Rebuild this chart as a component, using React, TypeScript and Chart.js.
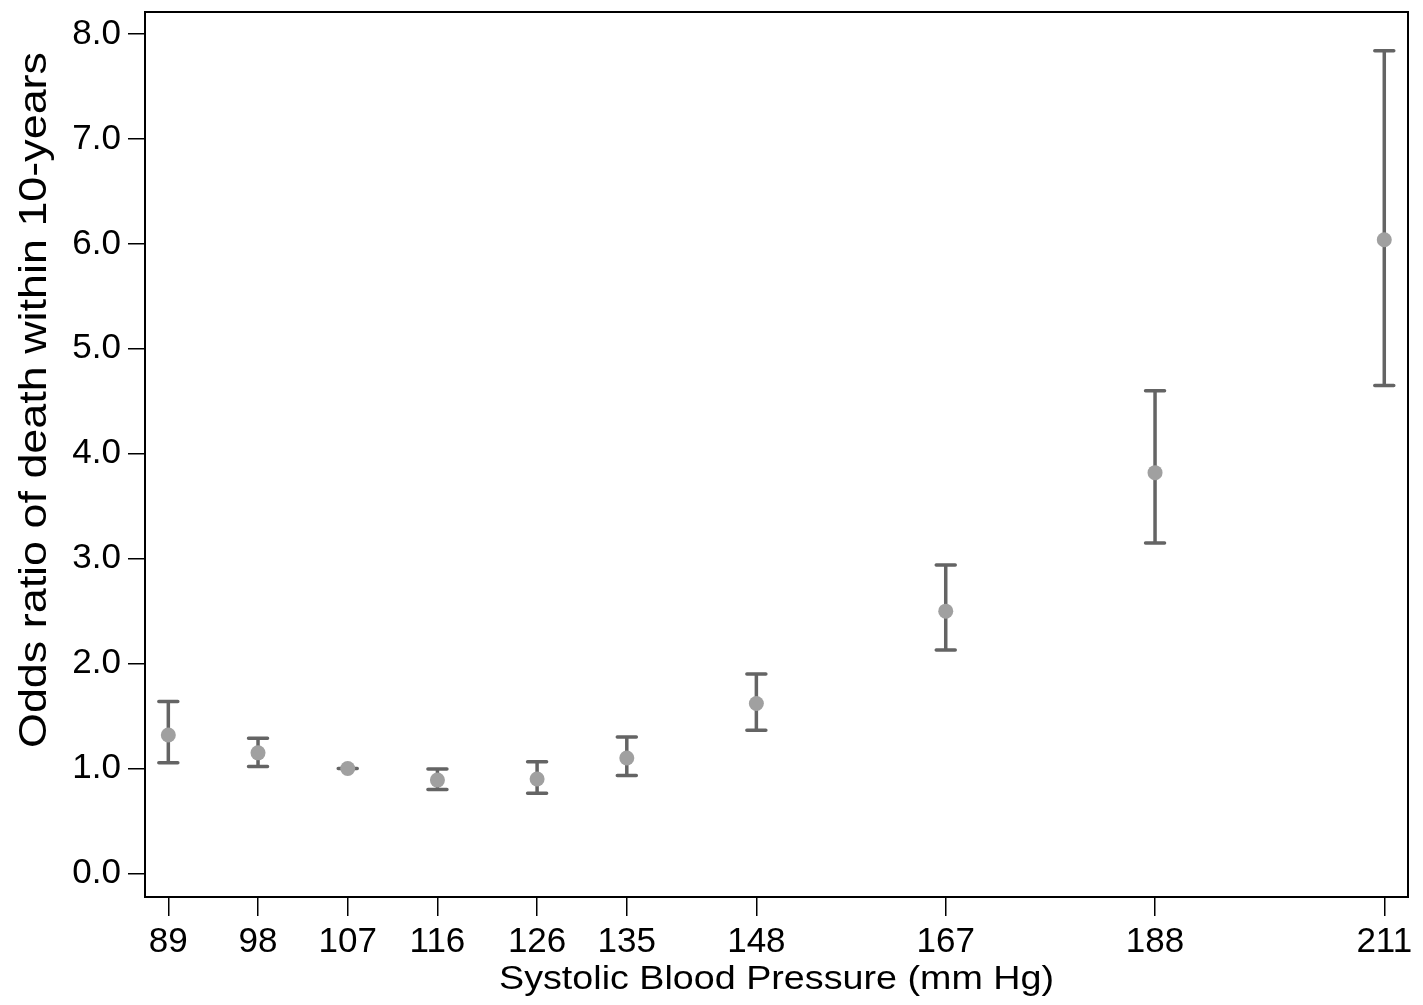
import React, { useEffect, useRef } from "react";
import { Chart, registerables } from "chart.js";

Chart.register(...registerables);

const sbpValues = [89, 98, 107, 116, 126, 135, 148, 167, 188, 211];
const oddsRatio = [1.32, 1.15, 1.0, 0.89, 0.9, 1.1, 1.62, 2.5, 3.82, 6.04];
const ciLower = [1.055, 1.02, 1.0, 0.8, 0.765, 0.935, 1.365, 2.13, 3.15, 4.65];
const ciUpper = [1.64, 1.29, 1.0, 0.995, 1.065, 1.3, 1.9, 2.94, 4.6, 7.84];
const yTickValues = [0, 1, 2, 3, 4, 5, 6, 7, 8];
const xTitle = "Systolic Blood Pressure (mm Hg)";
const yTitle = "Odds ratio of death within 10-years";

const FONT = "'Liberation Sans', Arial, Helvetica, sans-serif";

const errorBarPlugin = {
  id: "errorBars",
  beforeDatasetsDraw(chart: any) {
    const ctx = chart.ctx;
    const xs = chart.scales.x;
    const ys = chart.scales.y;
    ctx.save();
    ctx.strokeStyle = "#646464";
    ctx.lineWidth = 3.5;
    ctx.lineCap = "round";
    for (let i = 0; i < sbpValues.length; i++) {
      const x = xs.getPixelForValue(sbpValues[i]);
      const yl = ys.getPixelForValue(ciLower[i]);
      const yu = ys.getPixelForValue(ciUpper[i]);
      ctx.beginPath();
      ctx.moveTo(x, yl);
      ctx.lineTo(x, yu);
      ctx.moveTo(x - 9.5, yl);
      ctx.lineTo(x + 9.5, yl);
      ctx.moveTo(x - 9.5, yu);
      ctx.lineTo(x + 9.5, yu);
      ctx.stroke();
    }
    ctx.restore();
  },
};

const frameAndTitlesPlugin = {
  id: "frameAndTitles",
  afterDraw(chart: any) {
    const ctx = chart.ctx;
    const a = chart.chartArea;
    ctx.save();
    ctx.strokeStyle = "#000";
    ctx.lineWidth = 2;
    ctx.strokeRect(a.left, a.top, a.right - a.left, a.bottom - a.top);

    ctx.fillStyle = "#000";
    ctx.textAlign = "center";
    ctx.textBaseline = "alphabetic";

    // x-axis title
    ctx.font = `34px ${FONT}`;
    let w = ctx.measureText(xTitle).width;
    ctx.save();
    ctx.translate((a.left + a.right) / 2, 989);
    ctx.scale(555 / w, 1);
    ctx.fillText(xTitle, 0, 0);
    ctx.restore();

    // y-axis title
    ctx.font = `39px ${FONT}`;
    w = ctx.measureText(yTitle).width;
    ctx.save();
    ctx.translate(46, 400);
    ctx.rotate(-Math.PI / 2);
    ctx.scale(696 / w, 1);
    ctx.fillText(yTitle, 0, 0);
    ctx.restore();

    ctx.restore();
  },
};

export default function App() {
  const ref = useRef<HTMLCanvasElement | null>(null);

  useEffect(() => {
    if (!ref.current) return;
    const chart = new Chart(ref.current, {
      type: "scatter",
      data: {
        datasets: [
          {
            label: "Odds ratio",
            data: sbpValues.map((x, i) => ({ x, y: oddsRatio[i] })),
            backgroundColor: "#a0a0a0",
            borderWidth: 0,
            pointRadius: 7.5,
            pointHoverRadius: 7.5,
          },
        ],
      },
      options: {
        animation: false,
        responsive: false,
        layout: { padding: { left: 0, top: 12, right: 15, bottom: 0 } },
        plugins: {
          legend: { display: false },
          tooltip: { enabled: false },
        },
        scales: {
          x: {
            type: "linear",
            min: 86.66,
            max: 213.38,
            afterBuildTicks: (scale: any) => {
              scale.ticks = sbpValues.map((v) => ({ value: v }));
            },
            afterFit: (scale: any) => {
              scale.height = 108;
              scale.paddingLeft = 0;
              scale.paddingRight = 0;
            },
            grid: {
              drawOnChartArea: false,
              drawTicks: true,
              tickLength: 19,
              color: "#000",
              lineWidth: 1.5,
            },
            border: { display: false },
            ticks: {
              autoSkip: false,
              maxRotation: 0,
              padding: 5,
              color: "#000",
              font: { family: FONT, size: 35 },
              callback: (v: any) => String(v),
            },
          },
          y: {
            type: "linear",
            min: -0.224,
            max: 8.21,
            afterBuildTicks: (scale: any) => {
              scale.ticks = yTickValues.map((v) => ({ value: v }));
            },
            afterFit: (scale: any) => {
              scale.width = 145;
              scale.paddingTop = 0;
              scale.paddingBottom = 0;
            },
            grid: {
              drawOnChartArea: false,
              drawTicks: true,
              tickLength: 17,
              color: "#000",
              lineWidth: 1.5,
            },
            border: { display: false },
            ticks: {
              padding: 7,
              color: "#000",
              font: { family: FONT, size: 35 },
              callback: (v: any) => Number(v).toFixed(1),
            },
          },
        },
      },
      plugins: [errorBarPlugin, frameAndTitlesPlugin],
    });
    return () => chart.destroy();
  }, []);

  return (
    <div style={{ position: "fixed", left: 0, top: 0, width: 1423, height: 1005, background: "#fff" }}>
      <canvas ref={ref} width={1423} height={1005} style={{ display: "block" }} />
    </div>
  );
}
